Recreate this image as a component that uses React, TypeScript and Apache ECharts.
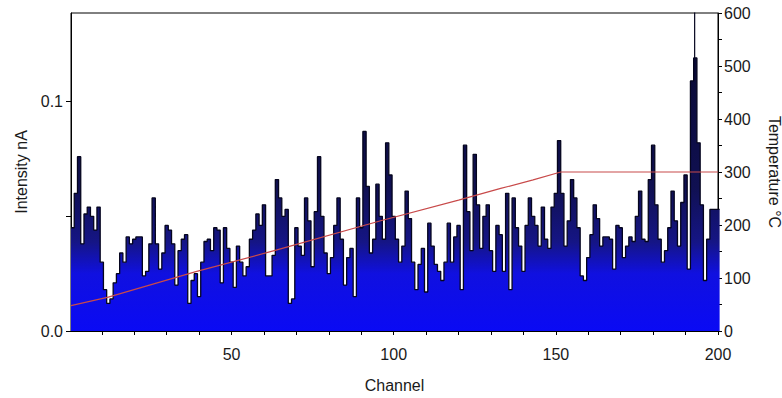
import React, { useEffect, useRef } from "react";
import * as echarts from "echarts";

// Intensity (nA) per channel 1..200
const intensity: number[] = [
  0.045, 0.060, 0.076, 0.038, 0.051, 0.054, 0.050, 0.044, 0.054, 0.030,
  0.018, 0.012, 0.014, 0.021, 0.025, 0.034, 0.030, 0.041, 0.038, 0.040,
  0.041, 0.041, 0.024, 0.026, 0.038, 0.058, 0.038, 0.027, 0.034, 0.046,
  0.044, 0.038, 0.020, 0.035, 0.040, 0.042, 0.012, 0.022, 0.025, 0.015,
  0.030, 0.039, 0.040, 0.035, 0.045, 0.044, 0.021, 0.045, 0.036, 0.030,
  0.019, 0.037, 0.030, 0.024, 0.028, 0.040, 0.044, 0.051, 0.046, 0.055,
  0.024, 0.024, 0.033, 0.066, 0.058, 0.050, 0.053, 0.012, 0.014, 0.045,
  0.037, 0.033, 0.058, 0.048, 0.028, 0.052, 0.076, 0.050, 0.034, 0.025,
  0.032, 0.046, 0.058, 0.040, 0.020, 0.032, 0.036, 0.015, 0.058, 0.045,
  0.087, 0.063, 0.034, 0.040, 0.064, 0.050, 0.040, 0.082, 0.068, 0.050,
  0.040, 0.030, 0.037, 0.061, 0.049, 0.030, 0.018, 0.029, 0.036, 0.017,
  0.047, 0.037, 0.029, 0.026, 0.022, 0.030, 0.047, 0.030, 0.041, 0.046,
  0.018, 0.081, 0.052, 0.035, 0.077, 0.055, 0.036, 0.050, 0.055, 0.035,
  0.026, 0.046, 0.042, 0.026, 0.060, 0.018, 0.058, 0.045, 0.037, 0.026,
  0.046, 0.058, 0.050, 0.046, 0.037, 0.054, 0.040, 0.036, 0.054, 0.060,
  0.083, 0.060, 0.037, 0.048, 0.066, 0.058, 0.045, 0.024, 0.022, 0.032,
  0.042, 0.055, 0.049, 0.037, 0.041, 0.041, 0.040, 0.027, 0.046, 0.045,
  0.032, 0.037, 0.041, 0.039, 0.050, 0.061, 0.040, 0.039, 0.066, 0.081,
  0.055, 0.040, 0.030, 0.035, 0.045, 0.061, 0.048, 0.037, 0.056, 0.068,
  0.027, 0.109, 0.119, 0.082, 0.055, 0.022, 0.040, 0.053, 0.053, 0.053,
];

// Temperature (°C) profile
const tempChannels: number[] = [0.5, 12, 39, 64, 96, 120, 133, 143, 151.5, 200];
const tempValues: number[] = [48, 64, 112, 153, 208, 247, 269, 285, 300, 300];

// Off-scale spike
const spikeChannel = 192.8;
const spikeValues: number[] = [0.119, 0.2];

// Axis ticks and labels
const xTicks: number[] = [10, 20, 30, 40, 50, 60, 70, 80, 90, 100, 110, 120, 130, 140, 150, 160, 170, 180, 190, 200];
const xLabels: number[] = [50, 100, 150, 200];
const leftTicks: number[] = [0, 0.05, 0.1];
const leftLabels: number[] = [0, 0.1];
const rightTicks: number[] = [0, 50, 100, 150, 200, 250, 300, 350, 400, 450, 500, 550, 600];
const rightLabels: number[] = [0, 100, 200, 300, 400, 500, 600];

const FONT = "'Liberation Sans', Arial, Helvetica, sans-serif";
const TXT = "#1a1a1a";

export default function App() {
  const ref = useRef<HTMLDivElement>(null);
  useEffect(() => {
    if (!ref.current) return;
    const chart = echarts.init(ref.current, undefined, { renderer: "svg" });

    const stepData: number[][] = [];
    intensity.forEach((v, i) => {
      const c = i + 1;
      stepData.push([c - 0.5, v], [c + 0.5, v]);
    });
    const tempData = tempChannels.map((c, i) => [c, tempValues[i]]);
    const spikeData = spikeValues.map((v) => [spikeChannel, v]);

    chart.setOption({
      animation: false,
      backgroundColor: "#ffffff",
      textStyle: { fontFamily: FONT },
      grid: {
        left: 71,
        right: 64,
        top: 13,
        bottom: 67,
        containLabel: false,
        outerBoundsMode: "none",
        show: true,
        borderColor: "#000",
        borderWidth: 1,
        backgroundColor: "transparent",
      },
      xAxis: {
        type: "value",
        min: 0.5,
        max: 200,
        name: "Channel",
        nameLocation: "middle",
        nameGap: 46,
        nameTextStyle: { fontSize: 16, color: TXT, fontFamily: FONT },
        axisLine: { show: true, lineStyle: { color: "#000", width: 1 } },
        axisTick: { show: true, length: 4, lineStyle: { color: "#000" }, customValues: xTicks },
        axisLabel: {
          customValues: xLabels,
          margin: 15,
          fontSize: 16,
          color: TXT,
          fontFamily: FONT,
          formatter: (v: number) => (xLabels.includes(v) ? String(v) : ""),
        },
        splitLine: { show: false },
      },
      yAxis: [
        {
          type: "value",
          min: 0,
          max: 0.1386,
          position: "left",
          name: "Intensity nA",
          nameLocation: "middle",
          nameGap: 42,
          nameTextStyle: { fontSize: 16, color: TXT, fontFamily: FONT },
          axisLine: { show: true, lineStyle: { color: "#000", width: 1 } },
          axisTick: { show: true, length: 5, lineStyle: { color: "#000" }, customValues: leftTicks },
          axisLabel: {
            customValues: leftLabels,
            margin: 8,
            fontSize: 16,
            color: TXT,
            fontFamily: FONT,
            formatter: (v: number) => (Math.abs(v) < 1e-9 ? "0.0" : Math.abs(v - 0.1) < 1e-9 ? "0.1" : ""),
          },
          splitLine: { show: false },
        },
        {
          type: "value",
          min: 0,
          max: 600,
          position: "right",
          name: "Temperature °C",
          nameLocation: "middle",
          nameRotate: -90,
          nameGap: 48,
          nameTextStyle: { fontSize: 16, color: TXT, fontFamily: FONT },
          axisLine: { show: true, lineStyle: { color: "#000", width: 1 } },
          axisTick: { show: true, length: 4, lineStyle: { color: "#000" }, customValues: rightTicks },
          axisLabel: {
            customValues: rightLabels,
            margin: 6,
            fontSize: 16,
            color: TXT,
            fontFamily: FONT,
            formatter: (v: number) => (rightLabels.includes(v) ? String(v) : ""),
          },
          splitLine: { show: false },
        },
      ],
      series: [
        {
          name: "Intensity",
          type: "line",
          xAxisIndex: 0,
          yAxisIndex: 0,
          data: stepData,
          showSymbol: false,
          symbol: "none",
          clip: true,
          lineStyle: { color: "#05051e", width: 1.3 },
          areaStyle: {
            origin: "start",
            opacity: 1,
            color: {
              type: "linear",
              x: 0,
              y: 13,
              x2: 0,
              y2: 331,
              global: true,
              colorStops: [
                { offset: 0, color: "#07072a" },
                { offset: 0.55, color: "#101052" },
                { offset: 0.72, color: "#151585" },
                { offset: 0.82, color: "#1010e0" },
                { offset: 1, color: "#0a0af4" },
              ],
            },
          },
          z: 2,
        },
        {
          name: "Spike",
          type: "line",
          xAxisIndex: 0,
          yAxisIndex: 0,
          data: spikeData,
          showSymbol: false,
          symbol: "none",
          clip: true,
          lineStyle: { color: "#05051e", width: 1.2 },
          z: 3,
        },
        {
          name: "Temperature",
          type: "line",
          xAxisIndex: 0,
          yAxisIndex: 1,
          data: tempData,
          showSymbol: false,
          symbol: "none",
          lineStyle: { color: "#c84a4a", width: 1.2 },
          z: 4,
        },
      ],
    });
    return () => chart.dispose();
  }, []);

  return (
    <div
      ref={ref}
      style={{ position: "fixed", left: 0, top: 0, width: 782, height: 398, background: "#fff" }}
    />
  );
}
